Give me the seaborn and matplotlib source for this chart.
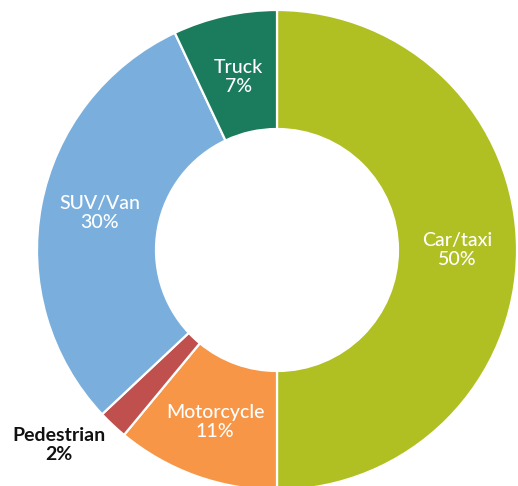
import numpy as np
import matplotlib
matplotlib.use("Agg")
import matplotlib.pyplot as plt
import seaborn as sns

# Share of road deaths by vehicle type
categories = ["Car/taxi", "Motorcycle", "Pedestrian", "SUV/Van", "Truck"]
shares = [50, 11, 2, 30, 7]
colors = ["#b0bf22", "#f79646", "#c0504e", "#7aafdd", "#1b7b5d"]
# radial placement of each label, as a fraction of the outer radius
label_radius = [0.75, 0.76, 1.22, 0.755, 0.74]
label_angle_shift = [0, 0, -5, -1, 0]

sns.set_theme(style="white")
plt.rcParams["font.family"] = ["Lato", "DejaVu Sans"]

W, H = 518, 486
fig = plt.figure(figsize=(W / 100, H / 100), dpi=100)
ax = fig.add_axes([0, 0, 1, 1])

cx, cy, R = 277, H - 250, 240
ring = 119 / 240

wedges, _ = ax.pie(
    shares,
    colors=colors,
    startangle=90,
    counterclock=False,
    center=(cx, cy),
    radius=R,
    frame=True,
    wedgeprops=dict(width=R * ring, edgecolor="white", linewidth=1.6),
)
ax.set_xlim(0, W)
ax.set_ylim(0, H)
ax.set_aspect("equal")
ax.axis("off")

for w, name, val, rf, shift in zip(wedges, categories, shares, label_radius, label_angle_shift):
    mid = np.deg2rad((w.theta1 + w.theta2) / 2 + shift)
    x = cx + R * rf * np.cos(mid)
    y = cy + R * rf * np.sin(mid)
    outside = rf > 1
    ax.text(
        x, y, f"{name}\n{val}%",
        ha="center", va="center",
        color="#111111" if outside else "white",
        fontsize=14,
        fontweight="bold" if outside else "medium",
        linespacing=1.15,
    )

fig.savefig("out.png", dpi=100)
